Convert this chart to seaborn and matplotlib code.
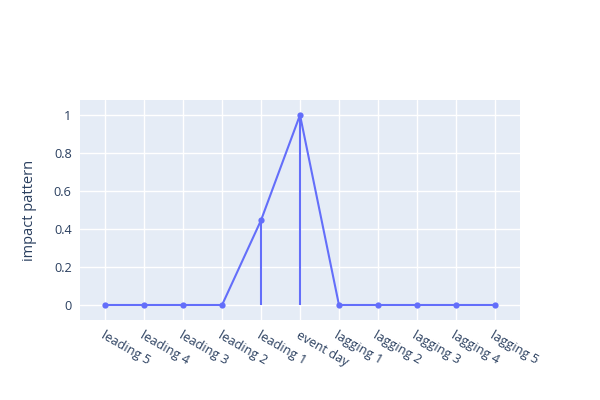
import matplotlib
matplotlib.use("Agg")
import matplotlib.pyplot as plt
import seaborn as sns
import pandas as pd

# ---------- data ----------
days = ["leading 5", "leading 4", "leading 3", "leading 2", "leading 1", "event day",
        "lagging 1", "lagging 2", "lagging 3", "lagging 4", "lagging 5"]
impact = [0, 0, 0, 0, 0.446, 1, 0, 0, 0, 0, 0]
stem_days = ["leading 1", "event day"]

BLUE, BG, TXT = "#636EFA", "#E5ECF6", "#2a3f5f"

df = pd.DataFrame({"day": days, "impact": impact, "pos": range(len(days))})

sns.set_style("white")
plt.rcParams["font.family"] = ["Open Sans", "DejaVu Sans"]

fig = plt.figure(figsize=(6, 4), dpi=100)
ax = fig.add_axes([80 / 600, 80 / 400, 440 / 600, 220 / 400])
ax.set_facecolor(BG)

sns.lineplot(data=df, x="pos", y="impact", ax=ax, color=BLUE, lw=1.5,
             marker="o", markersize=4.5, markeredgewidth=0, zorder=3)
stems = df[df["day"].isin(stem_days)]
ax.vlines(stems["pos"], 0, stems["impact"], color=BLUE, lw=1.5, zorder=3)

ax.set_xlim(-0.645, len(days) - 1 + 0.645)
ax.set_ylim(-0.079, 1.079)
ax.set_xticks(df["pos"])
ax.set_xticklabels(days, rotation=-30, ha="left", va="top", rotation_mode="anchor")
ax.set_yticks([0, 0.2, 0.4, 0.6, 0.8, 1])
ax.set_yticklabels(["0", "0.2", "0.4", "0.6", "0.8", "1"])
ax.grid(True, color="white", lw=1, zorder=0)
ax.set_axisbelow(True)
for s in ax.spines.values():
    s.set_visible(False)
ax.tick_params(length=0, labelsize=9.2, colors=TXT, pad=6)
ax.set_xlabel("")
ax.set_ylabel("impact pattern", fontsize=10.5, color=TXT, labelpad=12)

fig.savefig("out.png", dpi=100, facecolor="white")
